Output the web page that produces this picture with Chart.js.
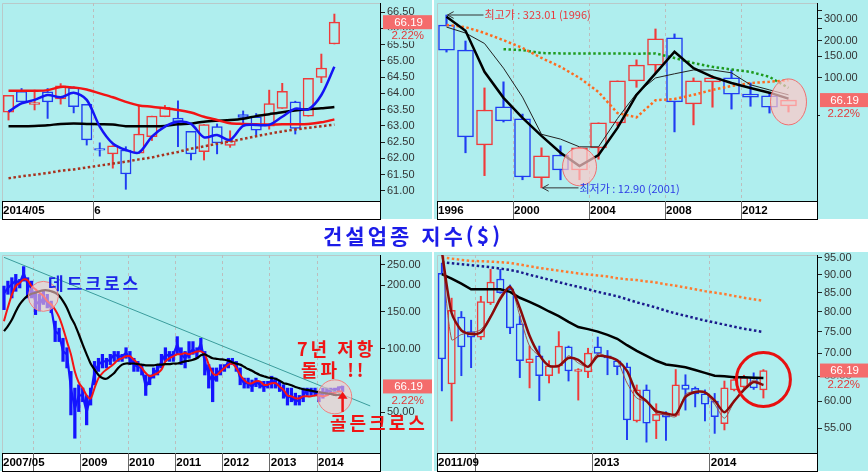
<!DOCTYPE html>
<html lang="ko">
<head>
<meta charset="utf-8">
<title>건설업종 지수($)</title>
<script src="https://cdn.jsdelivr.net/npm/chart.js@4.4.1/dist/chart.umd.min.js"></script>
<style>
  html, body { margin: 0; padding: 0; background: #fff; }
  body { position: relative; width: 868px; height: 475px; overflow: hidden; }
  canvas { position: absolute; }
  #title { position: absolute; left: 323px; top: 221px; font: bold 21px "Noto Sans CJK KR", sans-serif;
           letter-spacing: 3px; color: #1c1ce8; line-height: 28px; white-space: nowrap; }
</style>
</head>
<body>
<canvas id="tl" width="432" height="222" style="left:0;top:0"></canvas>
<canvas id="tr" width="434" height="222" style="left:434px;top:0"></canvas>
<div id="title">건설업종 지수($)</div>
<canvas id="bl" width="432" height="222" style="left:0;top:252px"></canvas>
<canvas id="br" width="434" height="222" style="left:434px;top:252px"></canvas>
<script>
// ---- top-left: daily candles, 2014/05 - 2014/06
const tlDates = ['2014/05/21','2014/05/22','2014/05/23','2014/05/27','2014/05/28','2014/05/29','2014/05/30',
  '2014/06/02','2014/06/03','2014/06/04','2014/06/05','2014/06/06','2014/06/09','2014/06/10','2014/06/11',
  '2014/06/12','2014/06/13','2014/06/16','2014/06/17','2014/06/18','2014/06/19','2014/06/20','2014/06/23',
  '2014/06/24','2014/06/25','2014/06/26','2014/06/27','2014/06/30','2014/07/01'];
const tlOpen  = [63.42,64.06,63.66,64.05,63.83,64.18,63.66,62.30,62.14,62.26,62.16,62.67,63.28,63.24,62.83,62.21,62.98,62.40,63.35,63.28,62.99,63.54,63.74,63.30,64.49,65.52];
const tlHigh  = [63.94,64.15,64.10,64.15,64.30,64.20,63.66,62.48,62.39,62.36,63.61,63.30,63.63,63.77,62.83,63.04,63.06,62.85,63.46,63.38,64.10,64.31,63.76,64.46,65.21,66.44];
const tlLow   = [63.18,63.74,63.49,63.23,63.67,63.40,62.41,62.07,61.70,61.05,62.16,62.55,63.28,62.36,61.95,61.95,62.14,62.34,62.98,62.72,62.90,63.54,62.75,63.30,64.33,65.52];
const tlClose = [63.94,63.74,63.72,63.74,64.23,63.59,62.57,62.25,62.39,61.52,62.75,63.30,63.57,63.13,62.14,63.04,62.48,62.54,63.26,62.87,63.69,64.06,62.92,64.46,64.78,66.19];
const tlMa5   = [63.44,63.69,63.80,63.95,63.88,64.02,63.80,62.98,62.46,62.26,62.18,62.67,62.98,63.13,63.06,62.65,62.72,62.57,63.00,63.03,63.03,63.28,63.53,63.51,63.95,64.82];
const tlMa20  = [64.08,64.08,64.08,64.10,64.20,64.18,64.12,64.00,63.88,63.74,63.63,63.59,63.54,63.49,63.41,63.28,63.18,63.08,63.06,63.05,63.04,63.05,63.05,63.06,63.11,63.20];
const tlMa60  = [62.99,62.99,63.00,63.02,63.06,63.07,63.06,63.05,63.04,62.99,62.99,62.99,63.00,63.05,63.07,63.13,63.16,63.18,63.22,63.30,63.36,63.42,63.47,63.51,63.54,63.58];
const tlMa120 = [61.39,61.45,61.50,61.55,61.62,61.66,61.72,61.78,61.84,61.90,61.97,62.03,62.12,62.20,62.30,62.37,62.45,62.52,62.60,62.68,62.76,62.83,62.89,62.94,62.99,63.04];
const tlTickCats = ['2014/05/21', '2014/06/02'];
const tlTickText = ['2014/05', '6'];
const tlYTicks = [61, 61.5, 62, 62.5, 63, 63.5, 64, 64.5, 65, 65.5, 66, 66.5];

// ---- top-right: yearly candles, 1996 - 2014 (log)
const trYears = ['1996','1997','1998','1999','2000','2001','2002','2003','2004','2005','2006','2007','2008','2009','2010','2011','2012','2013','2014','2015'];
const trOpen  = [268,168,28.7,58.3,46.6,15.6,23.8,18,27.2,43.3,94.6,127,211,61.6,93,100,74,71.5,59.5];
const trHigh  = [323.01,199,83,93,51,27.2,28.2,27.5,43.3,94.6,140,249,227,100,104,116,91,75.6,66.4];
const trLow   = [162,24.8,16.2,44,15,12.9,15,15,22,41,84,110,36.6,41.7,58,56,59,52,53];
const trClose = [168,33.4,55,45,15.8,23.4,18,27.2,43.3,94.6,127,207,64,94.6,100,74,70,58,66.19];
const trMaA   = [313,241,112,69,47.5,34,24.8,19.4,23.8,39.4,72.9,109,163,120,102,91,83,76,68];
const trMaB   = [258,231,190,120,70,35,32,27.7,27.7,47,75,100,108,116,116,110,88,80,73];
const trMaC   = [268,258,231,202,175,145,123,100,77,52,48,66,67.5,73,80,86,91,93,96];
const trMaD   = [null,null,null,171,168,159,158,158,158,158,157,158,145,132,123,117,112,102,83];
const trTickCats = ['1996','2000','2004','2008','2012'];
const trTickText = ['1996','2000','2004','2008','2012'];
const trYTicks = [50, 100, 150, 200, 250, 300, 350];
const trYLabels = [100, 150, 200, 300];

// ---- bottom-left: monthly, 2007/05 - 2014/06 (log)
const blMonths = [];
for (let y = 2007, m = 5; blMonths.length < 96; m++) {
  if (m > 12) { m = 1; y++; }
  blMonths.push(y + '/' + String(m).padStart(2, '0'));
}
const blClose = [183,194,202,210,205,228,202,194,168,162, 174,165,156,121,117,97,94,65,52,60,
  60,50,60,78,84,87,87,88.6,94,92, 92,95.4,90,84,82,81,66,71,76.6,79.5,
  87,94,92,94,104.5,94,90,95.4,99,95, 106,87,75,70,75,79.5,81,87,87,84,
  72.5,68.6,68.6,66,70,67.4,66,67.4,71,68.6, 66,62.6,58.2,60,56,57.2,60,63.8,62.6,62.6,
  59.4,61.5,62.6,63.8,63.8,65,66.19];
const blHigh = [198,209,217,225,213,245,217,209,187,181, 187,181,168,135,125,112,101,78,65,67.4,
  65,60,65,87,90,94,90,94,97,97, 94,101,97,90,87,84,75,75,81,84,
  94,101,97,97,114,101,97,108,108,101, 112,97,84,81,81,84,84,90,90,87,
  81,72.5,72.5,71,72.5,70,70,70,74,72.5, 70,67.4,65,65,61.5,60,65,65,65,65,
  62.6,65,65,65,65,66,66.4];
const blLow = [153,181,174,187,194,209,174,174,145,151, 162,156,148,108,108,87,81,48.5,37.6,50.3,
  56,43.5,54,67.4,78,81,81,84,87,87, 87,90,84,78,78,75,60,67.4,72.5,75,
  81,87,87,87,94,84,81,90,94,90, 97,75,65,56,70,75,78,81,84,78,
  67.4,65,65,62.6,66,65,62.6,65,65,65, 62.6,58.2,54,56,54,54,56,60,60,60,
  56,58.2,60,61.5,61.5,62.6,62.6];
const blMaRed = [135,157,180,198,205,213,211,198,191,184, 178,168,162,153,141,125,108,94,78,69,
  65,60,58,65,72.5,76.6,79.5,82,85,88.6, 90,92,92,88.6,85,81,76.6,74,75,76.6,
  79.5,87,90,92,94,94,95.4,94,95.4,97, 97,94,84,76.6,75,78,81,84,85,81,
  75,71,68.6,68.6,70,70,67.4,67.4,68.6,68.6, 66,63.8,60,59.4,58.2,58.2,59.4,59.4,59.4,60,
  60,59.4,60,61.5,61.5,62.6,62.6];
const blMaBlack = [121,128,137,150,162,171,178,182,184,187, 189,189,187,184,178,168,156,141,130,117,
  104.5,94,85,79.5,75,72.5,72,74,76.6,81, 84,85,85,85,84.5,84,83.3,83.3,83.3,84,
  84,84.5,84.5,85,85,86,87,87.7,88.6,90, 93,94,92,90,89.5,89,88.6,87.7,86,85,
  84,82,80,78.6,76.6,75,74,73,72.5,72, 70.5,68.6,68,67,65.8,65,64.2,63.8,63.2,62.6,
  62.2,61.8,61.3,61,60.3,60.3,60.3];
const blTrendCats = ['2007/05', '2015/02'];
const blTrendVals = [271, 53.5];
const blTickCats = ['2007/05','2008/01','2009/01','2010/01','2011/01','2012/01','2013/01','2014/01'];
const blTickText = ['2007/05','','2009','2010','2011','2012','2013','2014'];
const blYTicks = [50, 100, 150, 200, 250];

// ---- bottom-right: monthly candles, 2011/09 - 2014/06 (log)
const brMonths = [];
for (let y = 2011, m = 9; brMonths.length < 39; m++) {
  if (m > 12) { m = 1; y++; }
  brMonths.push(y + '/' + String(m).padStart(2, '0'));
}
const brOpen  = [90.4,63.4,78.6,75.0,73.7,82.2,88.8,86.0,76.9,67.9,69.4,65.1,67.2,71.4,66.0,65.9,71.4,69.4,68.3,67.0,56.3,62.2,56.3,57.5,57.3,63.2,62.5,61.4,60.0,55.8,62.2,62.8,64.8,62.2];
const brHigh  = [93.4,83.5,80.0,77.8,84.0,91.6,91.6,87.1,78.9,71.6,71.6,68.3,75.0,71.6,66.6,71.1,73.7,70.6,68.5,67.8,63.2,63.2,59.5,58.0,66.4,65.3,62.8,62.2,61.5,64.0,65.0,65.2,65.7,66.4];
const brLow   = [62.0,56.3,65.1,66.8,73.1,81.8,84.8,74.5,64.7,62.6,60.1,63.6,65.6,64.0,60.2,64.7,69.7,65.3,65.3,53.0,56.1,52.6,53.2,52.9,57.1,58.3,58.9,56.3,54.1,54.7,62.0,62.5,62.3,60.6];
const brClose = [68.7,80.3,71.4,73.7,82.6,87.9,85.0,75.9,68.3,68.7,65.1,67.2,71.6,66.1,66.4,70.0,69.9,68.9,67.0,56.5,62.2,55.9,57.5,57.0,63.2,62.3,61.4,59.4,57.1,62.6,64.3,64.7,62.6,66.19];
const brMaOrange = [95.2,94.8,94.4,94.1,94.0,93.9,93.7,93.5,93.0,92.5,92.0,91.6,91.2,90.8,90.4,90.1,89.8,89.5,89.0,88.7,88.5,88.1,87.8,87.3,86.9,86.4,85.9,85.4,85.0,84.6,84.1,83.6,83.2,82.8];
const brMaNavy   = [93.7,93.4,93.1,92.8,92.5,92.2,91.8,91.4,90.8,90.0,89.3,88.6,87.9,87.2,86.6,85.9,85.2,84.6,84.0,83.2,82.4,81.7,81.0,80.2,79.5,78.9,78.3,77.7,77.2,76.7,76.2,75.7,75.3,74.9];
const brMaBlack  = [90.2,88.9,87.5,85.9,85.9,85.9,85.9,85.2,83.6,82.5,81.3,80.0,78.8,77.4,76.1,75.6,75.0,74.2,73.3,71.8,70.5,69.4,68.3,67.5,67.2,66.9,66.3,65.7,65.1,65.0,64.8,64.8,64.7,64.6];
const brMaRed    = [97,79.6,75.3,74.4,74.8,78.6,83.3,86.6,80.9,74.0,69.6,67.2,67.2,68.9,68.5,67.0,69.3,69.2,68.4,66.1,61.6,60.0,58.1,57.7,57.5,60.8,61.8,61.7,60.1,57.9,60.0,62.2,63.8,63.2];
const brMaThin   = [97,73.1,74.3,74.7,75.5,78.9,84.0,86.8,78.9,71.6,69.3,67.3,67.0,69.4,67.8,67.0,69.9,69.1,68.2,63.6,60.6,59.9,57.7,57.4,57.1,61.3,61.9,61.6,59.4,56.8,59.9,62.5,64.2,63.2];
const brTickCats = ['2011/09','2012/01','2013/01','2014/01'];
const brTickText = ['2011/09','','2013','2014'];
const brYTicks = [55, 60, 65, 70, 75, 80, 85, 90, 95];

const changePct = '2.22%';

// ---- styling helpers
Chart.defaults.font.family = '"Liberation Sans", Arial, sans-serif';
const BG = '#afeeee';
const UP = '#f03a3a';
const DOWN = '#1f3cf2';

function candles(o, h, l, c, bodyW, wickW) {
  const col = c.map((v, i) => v >= o[i] ? UP : DOWN);
  return [
    { type: 'bar', data: o.map((v, i) => [v, c[i]]), backgroundColor: BG, borderColor: col,
      borderWidth: 1.5, borderSkipped: false, barThickness: bodyW, grouped: false, order: 8 },
    { type: 'bar', data: l.map((v, i) => [v, h[i]]), backgroundColor: col, borderWidth: 0,
      barThickness: wickW, grouped: false, order: 9 }
  ];
}

function line(data, color, width, dash, order, tension) {
  return { type: 'line', data, borderColor: color, borderWidth: width, borderDash: dash || [],
    borderCapStyle: 'butt', pointRadius: 0, tension: tension || 0, spanGaps: true, order: order || 1 };
}

function xAxis(tickCats, tickText, slotW) {
  const marked = ctx => ctx.index > 0 && tickCats.includes(ctx.chart.data.labels[ctx.index]);
  return {
    offset: true,
    afterFit: s => { s.height = 18; s.paddingLeft = 0; s.paddingRight = 0; },
    grid: { offset: true, lineWidth: 1, tickLength: 18,
      color: ctx => marked(ctx) ? '#bdbdbd' : 'rgba(0,0,0,0)',
      tickColor: ctx => marked(ctx) ? '#666' : 'rgba(0,0,0,0)' },
    border: { display: false, dash: [3, 3] },
    ticks: { autoSkip: false, maxRotation: 0, minRotation: 0, align: 'start', labelOffset: -slotW / 2 + 1,
      padding: -15, color: '#000', font: { size: 11.5, weight: 'bold' },
      callback: function (v, i) {
        const k = tickCats.indexOf(this.chart.data.labels[i]);
        return k >= 0 ? tickText[k] : '';
      } }
  };
}

function yAxis(type, min, max, ticks, labelled, width) {
  return {
    type, position: 'right', min, max, beginAtZero: false,
    afterBuildTicks: s => { s.ticks = ticks.map(v => ({ value: v })); },
    afterFit: s => { s.width = width; s.paddingTop = 0; s.paddingBottom = 0; },
    grid: { drawOnChartArea: false, tickLength: 5, tickColor: '#222' },
    border: { color: '#000', width: 1 },
    ticks: { autoSkip: false, padding: 2, color: '#333', font: { size: 11 },
      callback: v => labelled.includes(v) ? v.toFixed(2) : '' }
  };
}

Chart.register({
  id: 'panelBg',
  beforeDraw(chart) {
    const { ctx, chartArea: a, width, height } = chart;
    ctx.save();
    ctx.fillStyle = '#fff';
    ctx.fillRect(0, 0, width, height);
    ctx.fillStyle = BG;
    ctx.fillRect(0, 0, width, a.bottom + 18);
    ctx.fillStyle = '#fff';
    ctx.fillRect(a.left, a.bottom, a.right - a.left, 18);
    ctx.strokeStyle = '#000';
    ctx.lineWidth = 1;
    ctx.strokeRect(a.left + 0.5, a.bottom + 0.5, a.right - a.left, 18);
    ctx.strokeStyle = '#b9c9c9';
    ctx.beginPath();
    ctx.moveTo(a.left + 0.5, a.bottom);
    ctx.lineTo(a.left + 0.5, a.top + 0.5);
    ctx.lineTo(a.right, a.top + 0.5);
    ctx.stroke();
    ctx.restore();
  }
}, {
  id: 'lastTag',
  afterDraw(chart, args, opts) {
    if (opts.value === undefined) return;
    const { ctx, chartArea: a, width } = chart;
    const y = chart.scales.y.getPixelForValue(opts.value);
    ctx.save();
    ctx.fillStyle = BG;
    ctx.fillRect(a.right + 3, y + 8, width - a.right - 3, 11);
    ctx.fillStyle = '#f46c6c';
    ctx.fillRect(a.right + 3, y - 7, width - a.right - 3, 14);
    ctx.font = '11.5px "Liberation Sans", Arial, sans-serif';
    ctx.textAlign = 'right';
    ctx.textBaseline = 'middle';
    ctx.fillStyle = '#fff';
    ctx.fillText(opts.value.toFixed(2), width - 9, y + 0.5);
    ctx.fillStyle = '#e23a3a';
    ctx.fillText(opts.pct, width - 8, y + 14);
    ctx.restore();
  }
});

function makeChart(id, labels, datasets, x, y, tag, padLeft, extra) {
  return new Chart(document.getElementById(id), {
    type: 'bar',
    data: { labels, datasets },
    options: {
      responsive: false, devicePixelRatio: 1, animation: false, events: [],
      layout: { padding: { left: padLeft, top: 3, right: 0, bottom: 3 } },
      plugins: { legend: { display: false }, tooltip: { enabled: false }, lastTag: tag },
      scales: { x, y }
    },
    plugins: extra ? [extra] : []
  });
}

function blob(ctx, x, y, rx, ry, fill, stroke, lw) {
  ctx.beginPath();
  ctx.ellipse(x, y, rx, ry, 0, 0, Math.PI * 2);
  if (fill) { ctx.fillStyle = fill; ctx.fill(); }
  ctx.strokeStyle = stroke;
  ctx.lineWidth = lw || 1;
  ctx.stroke();
}

function pointer(ctx, x1, y1, x2, y2, color) {
  const a = Math.atan2(y2 - y1, x2 - x1);
  ctx.strokeStyle = color;
  ctx.lineWidth = 1;
  ctx.beginPath();
  ctx.moveTo(x1, y1);
  ctx.lineTo(x2, y2);
  ctx.moveTo(x2 - 7 * Math.cos(a - 0.5), y2 - 7 * Math.sin(a - 0.5));
  ctx.lineTo(x2, y2);
  ctx.lineTo(x2 - 7 * Math.cos(a + 0.5), y2 - 7 * Math.sin(a + 0.5));
  ctx.stroke();
}

// ---- top-left
makeChart('tl', tlDates, [
  line(tlMa5, '#1414f5', 2.5, null, 1, 0.3),
  line(tlMa20, '#f21414', 2.5, null, 2, 0.3),
  line(tlMa60, '#000', 2.5, null, 3, 0.3),
  line(tlMa120, '#a8321e', 2.5, [2.5, 2.5], 4),
  ...candles(tlOpen, tlHigh, tlLow, tlClose, 10.5, 1.3)
], xAxis(tlTickCats, tlTickText, 13.03), yAxis('linear', 60.69, 66.78, tlYTicks, tlYTicks, 52),
  { value: tlClose[tlClose.length - 1], pct: changePct }, 2);

// ---- top-right
makeChart('tr', trYears, [
  line(trMaA, '#000', 2.5, null, 1),
  line(trMaB, '#222', 1, null, 2),
  line(trMaC, '#ff6a1e', 2.5, [2.5, 2.5], 3),
  line(trMaD, '#1e9a1e', 2.5, [2.5, 2.5], 4),
  ...candles(trOpen, trHigh, trLow, trClose, 16, 1.5)
], xAxis(trTickCats, trTickText, 19), yAxis('logarithmic', 10.1, 404, trYTicks, trYLabels, 51),
  { value: trClose[trClose.length - 1], pct: changePct }, 3, {
  id: 'trNotes',
  afterDatasetsDraw(chart) {
    const { ctx } = chart, x = chart.scales.x, y = chart.scales.y;
    ctx.save();
    blob(ctx, x.getPixelForValue(7), y.getPixelForValue(19.1), 17, 19, 'rgba(255,200,200,0.7)', '#f07070');
    blob(ctx, x.getPixelForValue(18), y.getPixelForValue(64), 18, 23, 'rgba(255,200,200,0.7)', '#f07070');
    const hi = Math.max(...trHigh), hiIdx = trHigh.indexOf(hi);
    const lo = Math.min(...trLow), loIdx = trLow.indexOf(lo);
    const hx = x.getPixelForValue(hiIdx), hy = y.getPixelForValue(hi);
    const lx = x.getPixelForValue(loIdx), ly = y.getPixelForValue(lo);
    pointer(ctx, hx + 37, hy, hx + 1, hy, '#333');
    pointer(ctx, lx + 37, ly, lx + 1, ly, '#333');
    ctx.font = '11px "Noto Sans CJK KR", sans-serif';
    ctx.textBaseline = 'middle';
    ctx.fillStyle = '#e8383c';
    ctx.fillText('최고가 : ' + hi.toFixed(2) + ' (' + trYears[hiIdx] + ')', hx + 38, hy);
    ctx.fillStyle = '#2c3ce6';
    ctx.fillText('최저가 : ' + lo.toFixed(2) + ' (' + trYears[loIdx] + ')', lx + 38, ly + 1);
    ctx.restore();
  }
});

// ---- bottom-left
makeChart('bl', blMonths, [
  line(blMonths.map(m => { const k = blTrendCats.indexOf(m); return k >= 0 ? blTrendVals[k] : null; }), '#3a9c9c', 1, null, 1),
  line(blMaBlack, '#000', 2.2, null, 2, 0.3),
  line(blMaRed, '#f51414', 2, null, 3, 0.3),
  line(blClose, '#1414ff', 2.2, null, 5),
  { type: 'bar', data: blLow.map((v, i) => [v, blHigh[i]]), backgroundColor: '#1414ff', borderWidth: 0,
    barThickness: 2.6, grouped: false, order: 6 }
], xAxis(blTickCats, blTickText, 3.94), yAxis('logarithmic', 32, 278, blYTicks, blYTicks, 52),
  { value: blClose[blClose.length - 1], pct: changePct }, 2, {
  id: 'blNotes',
  afterDatasetsDraw(chart) {
    const { ctx } = chart, x = chart.scales.x, y = chart.scales.y;
    ctx.save();
    blob(ctx, x.getPixelForValue(10), y.getPixelForValue(177), 15, 15, 'rgba(255,200,200,0.6)', '#f08080');
    blob(ctx, x.getPixelForValue(84), y.getPixelForValue(59.1), 17, 17, 'rgba(255,200,200,0.6)', '#f08080');
    const ax = x.getPixelForValue(86), ay1 = y.getPixelForValue(50.1), ay2 = y.getPixelForValue(62.4);
    ctx.strokeStyle = '#f01414';
    ctx.fillStyle = '#f01414';
    ctx.lineWidth = 2.5;
    ctx.beginPath(); ctx.moveTo(ax, ay1); ctx.lineTo(ax, ay2 + 6); ctx.stroke();
    ctx.beginPath(); ctx.moveTo(ax - 5, ay2 + 7); ctx.lineTo(ax + 5, ay2 + 7); ctx.lineTo(ax, ay2); ctx.closePath(); ctx.fill();
    ctx.restore();
  },
  afterDraw(chart) {
    const { ctx, chartArea: a } = chart;
    ctx.save();
    ctx.textBaseline = 'middle';
    ctx.font = 'bold 17px "Noto Sans CJK KR", sans-serif';
    ctx.letterSpacing = '3px';
    ctx.fillStyle = '#1c24e8';
    ctx.fillText('데드크로스', a.left + 46, a.top + 29);
    ctx.fillStyle = '#f01414';
    ctx.font = 'bold 18px "Noto Sans CJK KR", sans-serif';
    ctx.fillText('7년 저항', a.left + 295, a.top + 94);
    ctx.fillText('돌파 !!', a.left + 299, a.top + 115);
    ctx.fillText('골든크로스', a.left + 328, a.top + 168);
    ctx.restore();
  }
});

// ---- bottom-right
makeChart('br', brMonths, [
  line(brMaRed, '#8a0a0a', 2.5, null, 1, 0.25),
  line(brMaThin, '#a05050', 1, null, 2, 0.25),
  line(brMaBlack, '#000', 2.5, null, 3),
  line(brMaNavy, '#1a1a8c', 2.5, [2.5, 2.5], 4),
  line(brMaOrange, '#ff7a30', 2.5, [2.5, 2.5], 5),
  ...candles(brOpen, brHigh, brLow, brClose, 7.5, 1.3)
], xAxis(brTickCats, brTickText, 9.74), yAxis('logarithmic', 50.8, 95.9, brYTicks, brYTicks, 51),
  { value: brClose[brClose.length - 1], pct: changePct }, 3, {
  id: 'brNotes',
  afterDatasetsDraw(chart) {
    const { ctx } = chart, x = chart.scales.x, y = chart.scales.y;
    ctx.save();
    blob(ctx, x.getPixelForValue(33), y.getPixelForValue(64.3), 27, 27, null, '#e81010', 3);
    ctx.restore();
  }
});
</script>
</body>
</html>
